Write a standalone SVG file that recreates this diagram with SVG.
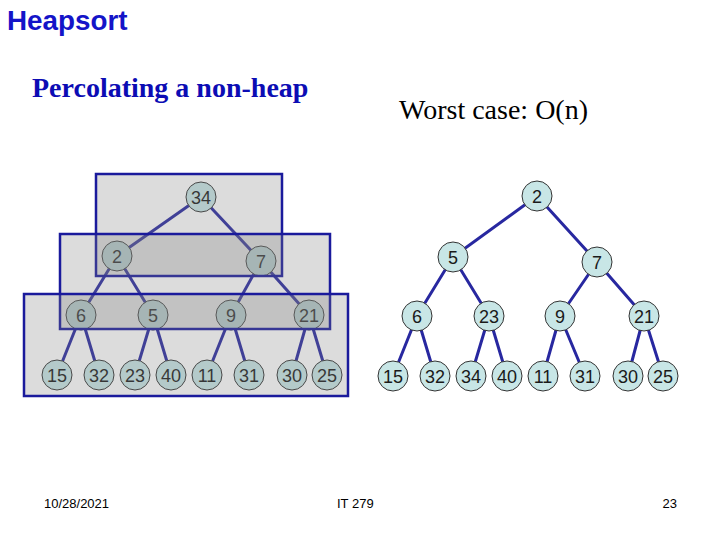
<svg xmlns="http://www.w3.org/2000/svg" width="720" height="540" viewBox="0 0 720 540">
<style>
.bg{fill:#ffffff}
.edge{stroke:#2828a0;stroke-width:3;stroke-linecap:round}
.nd circle{fill:#c8e6e6;stroke:#333333;stroke-width:1}
.nd text{font-family:"Liberation Sans",Arial,sans-serif;font-size:18px;fill:#1a1a1a;text-anchor:middle}
.band{fill:#808080;fill-opacity:0.28;stroke:#1a1a9c;stroke-width:2.5}
.foot{font-family:"Liberation Sans",Arial,sans-serif;font-size:13px;fill:#000000}
</style>
<rect class="bg" x="0" y="0" width="720" height="540"/>
<text x="7" y="30" style="font-family:'Liberation Sans',Arial,sans-serif;font-weight:bold;font-size:27.8px;fill:#1414c8">Heapsort</text>
<text x="32" y="97" style="font-family:'Liberation Serif','Times New Roman',serif;font-weight:bold;font-size:28px;fill:#0c0cb4">Percolating a non-heap</text>
<text x="399" y="119" style="font-family:'Liberation Serif','Times New Roman',serif;font-size:28px;fill:#000000">Worst case: O(n)</text>

<g id="connectors">
  <!-- left tree -->
  <line class="edge" x1="201" y1="197" x2="117" y2="256"/>
  <line class="edge" x1="201" y1="197" x2="261" y2="261"/>
  <line class="edge" x1="117" y1="256" x2="81" y2="315"/>
  <line class="edge" x1="117" y1="256" x2="153" y2="315"/>
  <line class="edge" x1="261" y1="261" x2="231" y2="315"/>
  <line class="edge" x1="261" y1="261" x2="309" y2="315"/>
  <line class="edge" x1="81" y1="315" x2="57" y2="375"/>
  <line class="edge" x1="81" y1="315" x2="99" y2="375"/>
  <line class="edge" x1="153" y1="315" x2="135" y2="375"/>
  <line class="edge" x1="153" y1="315" x2="171" y2="375"/>
  <line class="edge" x1="231" y1="315" x2="207" y2="375"/>
  <line class="edge" x1="231" y1="315" x2="249" y2="375"/>
  <line class="edge" x1="309" y1="315" x2="292" y2="375"/>
  <line class="edge" x1="309" y1="315" x2="327" y2="375"/>
  <!-- right tree -->
  <line class="edge" x1="537" y1="196" x2="453" y2="257"/>
  <line class="edge" x1="537" y1="196" x2="597" y2="262"/>
  <line class="edge" x1="453" y1="257" x2="417" y2="316"/>
  <line class="edge" x1="453" y1="257" x2="489" y2="316"/>
  <line class="edge" x1="597" y1="262" x2="560" y2="316"/>
  <line class="edge" x1="597" y1="262" x2="644" y2="316"/>
  <line class="edge" x1="417" y1="316" x2="393" y2="376"/>
  <line class="edge" x1="417" y1="316" x2="435" y2="376"/>
  <line class="edge" x1="489" y1="316" x2="471" y2="376"/>
  <line class="edge" x1="489" y1="316" x2="507" y2="376"/>
  <line class="edge" x1="560" y1="316" x2="543" y2="376"/>
  <line class="edge" x1="560" y1="316" x2="585" y2="376"/>
  <line class="edge" x1="644" y1="316" x2="628" y2="376"/>
  <line class="edge" x1="644" y1="316" x2="663" y2="376"/>
</g>

<!-- left tree nodes -->
<g id="L34" class="nd"><circle cx="201" cy="197" r="15"/><text x="201" y="203.5">34</text></g>
<g id="L2" class="nd"><circle cx="117" cy="256" r="15"/><text x="117" y="262.5">2</text></g>
<g id="L7" class="nd"><circle cx="261" cy="261" r="15"/><text x="261" y="267.5">7</text></g>
<g id="L6" class="nd"><circle cx="81" cy="315" r="15"/><text x="81" y="321.5">6</text></g>
<g id="L5" class="nd"><circle cx="153" cy="315" r="15"/><text x="153" y="321.5">5</text></g>
<g id="L9" class="nd"><circle cx="231" cy="315" r="15"/><text x="231" y="321.5">9</text></g>
<g id="L21" class="nd"><circle cx="309" cy="315" r="15"/><text x="309" y="321.5">21</text></g>
<g id="L15" class="nd"><circle cx="57" cy="375" r="15"/><text x="57" y="381.5">15</text></g>
<g id="L32" class="nd"><circle cx="99" cy="375" r="15"/><text x="99" y="381.5">32</text></g>
<g id="L23" class="nd"><circle cx="135" cy="375" r="15"/><text x="135" y="381.5">23</text></g>
<g id="L40" class="nd"><circle cx="171" cy="375" r="15"/><text x="171" y="381.5">40</text></g>
<g id="L11" class="nd"><circle cx="207" cy="375" r="15"/><text x="207" y="381.5">11</text></g>
<g id="L31" class="nd"><circle cx="249" cy="375" r="15"/><text x="249" y="381.5">31</text></g>
<g id="L30" class="nd"><circle cx="292" cy="375" r="15"/><text x="292" y="381.5">30</text></g>
<g id="L25" class="nd"><circle cx="327" cy="375" r="15"/><text x="327" y="381.5">25</text></g>

<!-- translucent percolation bands over left tree -->
<g id="bands">
  <rect class="band" x="96" y="174" width="186" height="102"/>
  <rect class="band" x="60" y="234" width="270" height="95"/>
  <rect class="band" x="24" y="294" width="324" height="102"/>
</g>

<!-- right tree nodes -->
<g id="R2" class="nd"><circle cx="537" cy="196" r="15"/><text x="537" y="202.5">2</text></g>
<g id="R5" class="nd"><circle cx="453" cy="257" r="15"/><text x="453" y="263.5">5</text></g>
<g id="R7" class="nd"><circle cx="597" cy="262" r="15"/><text x="597" y="268.5">7</text></g>
<g id="R6" class="nd"><circle cx="417" cy="316" r="15"/><text x="417" y="322.5">6</text></g>
<g id="R23" class="nd"><circle cx="489" cy="316" r="15"/><text x="489" y="322.5">23</text></g>
<g id="R9" class="nd"><circle cx="560" cy="316" r="15"/><text x="560" y="322.5">9</text></g>
<g id="R21" class="nd"><circle cx="644" cy="316" r="15"/><text x="644" y="322.5">21</text></g>
<g id="R15" class="nd"><circle cx="393" cy="376" r="15"/><text x="393" y="382.5">15</text></g>
<g id="R32" class="nd"><circle cx="435" cy="376" r="15"/><text x="435" y="382.5">32</text></g>
<g id="R34" class="nd"><circle cx="471" cy="376" r="15"/><text x="471" y="382.5">34</text></g>
<g id="R40" class="nd"><circle cx="507" cy="376" r="15"/><text x="507" y="382.5">40</text></g>
<g id="R11" class="nd"><circle cx="543" cy="376" r="15"/><text x="543" y="382.5">11</text></g>
<g id="R31" class="nd"><circle cx="585" cy="376" r="15"/><text x="585" y="382.5">31</text></g>
<g id="R30" class="nd"><circle cx="628" cy="376" r="15"/><text x="628" y="382.5">30</text></g>
<g id="R25" class="nd"><circle cx="663" cy="376" r="15"/><text x="663" y="382.5">25</text></g>

<text class="foot" x="44" y="508">10/28/2021</text>
<text class="foot" x="337" y="508">IT 279</text>
<text class="foot" x="677" y="508" text-anchor="end">23</text>
</svg>
